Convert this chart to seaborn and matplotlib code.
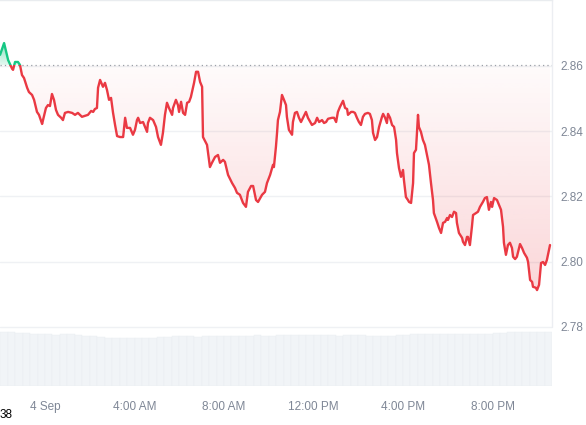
import numpy as np
import pandas as pd
import matplotlib
matplotlib.use("Agg")
import matplotlib.pyplot as plt
from matplotlib.patches import Polygon, Rectangle
import seaborn as sns

# price samples: hours relative to 4 Sep 00:00, price in USD
hours = [-2.01, -1.83, -1.65, -1.47, -1.43, -1.34, -1.21, -1.12, -1.03, -0.94,
         -0.80, -0.72, -0.58, -0.49, -0.36, -0.27, -0.13, -0.09, 0.04, 0.13,
         0.22, 0.31, 0.40, 0.49, 0.58, 0.72, 0.80, 0.89, 1.03, 1.21,
         1.34, 1.47, 1.65, 1.79, 1.92, 2.06, 2.15, 2.23, 2.32, 2.37,
         2.46, 2.59, 2.68, 2.77, 2.86, 2.95, 3.04, 3.13, 3.22, 3.35,
         3.49, 3.58, 3.66, 3.80, 3.93, 4.02, 4.11, 4.16, 4.25, 4.38,
         4.56, 4.60, 4.69, 4.83, 4.96, 5.05, 5.18, 5.27, 5.36, 5.45,
         5.54, 5.68, 5.72, 5.85, 5.94, 5.99, 6.08, 6.17, 6.26, 6.35,
         6.44, 6.52, 6.57, 6.66, 6.75, 6.84, 6.93, 7.02, 7.06, 7.24,
         7.37, 7.46, 7.60, 7.73, 7.82, 7.96, 8.04, 8.18, 8.36, 8.49,
         8.58, 8.71, 8.85, 8.98, 9.07, 9.21, 9.30, 9.43, 9.52, 9.70,
         9.83, 9.92, 10.06, 10.19, 10.23, 10.32, 10.37, 10.41, 10.50, 10.59,
         10.68, 10.77, 10.81, 10.90, 11.04, 11.08, 11.17, 11.26, 11.35, 11.44,
         11.53, 11.66, 11.75, 11.93, 12.07, 12.16, 12.25, 12.38, 12.47, 12.56,
         12.65, 12.83, 12.92, 13.01, 13.09, 13.18, 13.32, 13.41, 13.50, 13.54,
         13.68, 13.77, 13.85, 13.94, 14.03, 14.12, 14.21, 14.30, 14.43, 14.52,
         14.61, 14.66, 14.75, 14.84, 14.93, 15.06, 15.11, 15.20, 15.28, 15.33,
         15.42, 15.51, 15.60, 15.69, 15.73, 15.82, 15.91, 16.00, 16.04, 16.13,
         16.22, 16.27, 16.36, 16.45, 16.49, 16.58, 16.67, 16.71, 16.80, 16.89,
         16.98, 17.07, 17.16, 17.25, 17.34, 17.38, 17.52, 17.61, 17.70, 17.79,
         17.88, 17.97, 18.01, 18.10, 18.19, 18.28, 18.37, 18.41, 18.50, 18.64,
         18.68, 18.77, 18.86, 18.90, 18.99, 19.08, 19.13, 19.26, 19.35, 19.44,
         19.57, 19.66, 19.75, 19.84, 19.93, 19.98, 20.07, 20.20, 20.29, 20.38,
         20.47, 20.51, 20.60, 20.69, 20.78, 20.87, 20.92, 21.01, 21.09, 21.23,
         21.32, 21.41, 21.54, 21.59, 21.68, 21.77, 21.81, 21.94, 21.99, 22.08,
         22.17, 22.26, 22.35, 22.43, 22.57]

prices = [2.8634, 2.8670, 2.8618, 2.8591, 2.8588, 2.8612, 2.8612, 2.8603, 2.8572, 2.8563,
          2.8533, 2.8520, 2.8511, 2.8496, 2.8459, 2.8450, 2.8422, 2.8434, 2.8471, 2.8480,
          2.8477, 2.8514, 2.8496, 2.8465, 2.8450, 2.8441, 2.8434, 2.8456, 2.8459, 2.8456,
          2.8450, 2.8456, 2.8444, 2.8447, 2.8450, 2.8462, 2.8459, 2.8468, 2.8471, 2.8533,
          2.8557, 2.8536, 2.8548, 2.8526, 2.8496, 2.8502, 2.8456, 2.8419, 2.8385, 2.8382,
          2.8382, 2.8441, 2.8410, 2.8410, 2.8389, 2.8404, 2.8434, 2.8441, 2.8425, 2.8428,
          2.8398, 2.8425, 2.8441, 2.8434, 2.8413, 2.8382, 2.8358, 2.8395, 2.8450, 2.8487,
          2.8471, 2.8450, 2.8471, 2.8496, 2.8480, 2.8459, 2.8490, 2.8456, 2.8450, 2.8487,
          2.8490, 2.8505, 2.8520, 2.8548, 2.8582, 2.8582, 2.8551, 2.8536, 2.8382, 2.8358,
          2.8290, 2.8303, 2.8321, 2.8327, 2.8303, 2.8312, 2.8306, 2.8266, 2.8241, 2.8226,
          2.8211, 2.8205, 2.8180, 2.8168, 2.8214, 2.8232, 2.8232, 2.8189, 2.8183, 2.8205,
          2.8214, 2.8241, 2.8266, 2.8297, 2.8290, 2.8352, 2.8395, 2.8434, 2.8459, 2.8511,
          2.8496, 2.8480, 2.8444, 2.8404, 2.8389, 2.8428, 2.8456, 2.8459, 2.8441, 2.8428,
          2.8441, 2.8459, 2.8441, 2.8419, 2.8425, 2.8441, 2.8428, 2.8434, 2.8425, 2.8428,
          2.8438, 2.8441, 2.8441, 2.8428, 2.8459, 2.8474, 2.8493, 2.8471, 2.8468, 2.8450,
          2.8459, 2.8459, 2.8456, 2.8441, 2.8428, 2.8419, 2.8444, 2.8453, 2.8456, 2.8453,
          2.8434, 2.8395, 2.8373, 2.8382, 2.8413, 2.8444, 2.8453, 2.8441, 2.8425, 2.8453,
          2.8441, 2.8419, 2.8413, 2.8373, 2.8333, 2.8287, 2.8260, 2.8281, 2.8251, 2.8198,
          2.8189, 2.8183, 2.8180, 2.8241, 2.8333, 2.8343, 2.8450, 2.8413, 2.8398, 2.8373,
          2.8358, 2.8327, 2.8297, 2.8241, 2.8189, 2.8149, 2.8122, 2.8103, 2.8088, 2.8119,
          2.8122, 2.8134, 2.8128, 2.8143, 2.8137, 2.8153, 2.8149, 2.8119, 2.8088, 2.8073,
          2.8061, 2.8051, 2.8076, 2.8076, 2.8051, 2.8107, 2.8143, 2.8149, 2.8153, 2.8168,
          2.8183, 2.8195, 2.8198, 2.8159, 2.8183, 2.8168, 2.8195, 2.8189, 2.8174, 2.8159,
          2.8107, 2.8058, 2.8021, 2.8051, 2.8058, 2.8042, 2.8015, 2.8008, 2.8015, 2.8054,
          2.8042, 2.8027, 2.8012, 2.7999, 2.7944, 2.7938, 2.7923, 2.7920, 2.7913, 2.7929,
          2.7996, 2.7999, 2.7990, 2.8005, 2.8051]

open_price = 2.8603

# volume bars, 20 min each starting at -2h
vol_start = -2.0
vol_step = 1 / 3
volumes = [53, 53, 52, 52,
           51, 51, 51, 50, 51, 51, 50,
           49, 49, 48,
           47, 47, 47, 47, 47, 47, 47, 48, 48,
           49, 49, 49, 48, 49, 49, 49, 49, 49, 49, 49, 50, 49, 49, 50,
           50, 50, 50, 50, 50, 50, 50, 49, 50, 50, 50,
           49, 49, 49, 49, 50, 50,
           51, 51, 51, 51, 51, 51, 51, 51, 51, 51, 51, 52, 52,
           53, 53, 53, 53, 53, 53]

tick_hours = [0, 4, 8, 12, 16, 20]
tick_labels = ["4 Sep", "4:00 AM", "8:00 AM", "12:00 PM", "4:00 PM", "8:00 PM"]
price_ticks = [2.78, 2.80, 2.82, 2.84, 2.86]

red = "#ea3943"
green = "#16c784"
label_col = "#7f8796"

sns.set_style("white")
plt.rcParams["font.family"] = ["Liberation Sans", "DejaVu Sans"]

df = pd.DataFrame({"hour": hours, "price": prices})
xmin, xmax = -2.013, 22.659
ymin, ymax = 2.7619, 2.8802

fig = plt.figure(figsize=(5.86, 4.25), dpi=100)

# volume strip underneath
axv = fig.add_axes([0, 39 / 425, 552 / 586, 59 / 425])
vx = [vol_start + i * vol_step for i in range(len(volumes))]
axv.bar(vx, volumes, width=vol_step, align="edge", color="#f1f4f7",
        edgecolor="#e9edf1", linewidth=0.3)
axv.set_xlim(xmin, xmax)
axv.set_ylim(0, 58)
axv.axis("off")

ax = fig.add_axes([0, 39 / 425, 552 / 586, 386 / 425])
ax.set_facecolor("none")
ax.set_xlim(xmin, xmax)
ax.set_ylim(ymin, ymax)

# gradient fills clipped to the area between line and open price
h = np.array(hours)
p = np.array(prices)
red_poly = Polygon(np.column_stack([np.r_[h, h[-1], h[0]],
                                    np.r_[np.minimum(p, open_price), open_price, open_price]]),
                   closed=True, facecolor="none", edgecolor="none", transform=ax.transData)
green_poly = Polygon(np.column_stack([np.r_[h, h[-1], h[0]],
                                      np.r_[np.maximum(p, open_price), open_price, open_price]]),
                     closed=True, facecolor="none", edgecolor="none", transform=ax.transData)
ax.add_patch(red_poly)
ax.add_patch(green_poly)

n = 256
grad = np.zeros((n, 1, 4))
grad[:, 0, :3] = matplotlib.colors.to_rgb(red)
grad[:, 0, 3] = np.linspace(0.28, 0.02, n)
im = ax.imshow(grad, extent=[xmin, xmax, ymin, open_price], origin="lower",
               aspect="auto", zorder=1)
im.set_clip_path(red_poly)

ggrad = np.zeros((n, 1, 4))
ggrad[:, 0, :3] = matplotlib.colors.to_rgb(green)
ggrad[:, 0, 3] = np.linspace(0.12, 0.55, n)
im2 = ax.imshow(ggrad, extent=[xmin, xmax, open_price, 2.868], origin="lower",
                aspect="auto", zorder=1)
im2.set_clip_path(green_poly)

# price line, red below the open price and green above
sns.lineplot(data=df, x="hour", y="price", ax=ax, color=red, linewidth=1.7,
             sort=False, zorder=3)
ax.lines[-1].set_clip_path(Rectangle((xmin, ymin), xmax - xmin, open_price - ymin,
                                     transform=ax.transData))
sns.lineplot(data=df, x="hour", y="price", ax=ax, color=green, linewidth=1.7,
             sort=False, zorder=3)
ax.lines[-1].set_clip_path(Rectangle((xmin, open_price), xmax - xmin, ymax - open_price,
                                     transform=ax.transData))

ax.axhline(open_price, color="#9aa0a8", linewidth=0.9, linestyle=(0, (1, 2.5)), zorder=2)

ax.set_xlim(xmin, xmax)
ax.set_ylim(ymin, ymax)
ax.set_yticks(price_ticks)
ax.set_yticklabels([f"{v:.2f}" for v in price_ticks])
ax.yaxis.tick_right()
ax.set_xticks(tick_hours)
ax.set_xticklabels(tick_labels)
ax.tick_params(axis="both", length=0, labelsize=8.5, labelcolor=label_col)
ax.tick_params(axis="x", pad=11)
ax.tick_params(axis="y", pad=6)
ax.grid(axis="y", color="#eff1f4", linewidth=1)
ax.set_xlabel("")
ax.set_ylabel("")

for side in ["left", "bottom", "right"]:
    ax.spines[side].set_visible(False)
ax.spines["top"].set_color("#e9ecef")
ax.spines["top"].set_linewidth(1)
ax.axvline(xmax, ymin=(2.78 - ymin) / (ymax - ymin), ymax=1, color="#eceef2",
           linewidth=1, clip_on=False)

fig.text(0.0, 1 - 415 / 425, "38", color="black", fontsize=8.5, va="center", ha="left")

fig.savefig("out.png", dpi=100)
